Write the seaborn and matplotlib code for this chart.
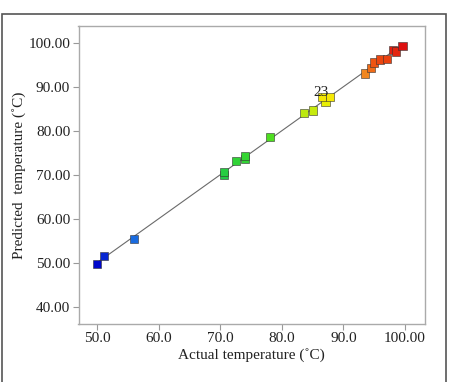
import numpy as np
import pandas as pd
import seaborn as sns
import matplotlib.pyplot as plt
from matplotlib.colors import LinearSegmentedColormap
from matplotlib.patches import Rectangle

# actual vs predicted temperature
actual = [50.0, 51.1, 56.0, 70.6, 70.6, 72.6, 74.1, 74.1, 78.1, 83.6, 85.1,
          87.1, 86.6, 87.9, 93.5, 94.5, 95.0, 96.0, 97.1, 98.1, 98.6, 99.6]
predicted = [49.7, 51.6, 55.5, 70.0, 70.7, 73.1, 73.5, 74.2, 78.5, 84.0, 84.6,
             86.5, 87.7, 87.6, 93.0, 94.3, 95.5, 96.2, 96.4, 98.3, 98.0, 99.2]
xticks = [50, 60, 70, 80, 90, 100]
xtick_labels = ['50.0', '60.0', '70.0', '80.0', '90.0', '100.00']
yticks = [40, 50, 60, 70, 80, 90, 100]
ytick_labels = ['40.00', '50.00', '60.00', '70.00', '80.00', '90.00', '100.00']
label_run = '23'

df = pd.DataFrame({'Actual': actual, 'Predicted': predicted})

sns.set_style('white')
plt.rcParams['font.family'] = ['Liberation Serif', 'DejaVu Serif']

cmap = LinearSegmentedColormap.from_list('de', [
    (0.0, '#0008cc'), (0.12, '#1a70e0'), (0.41, '#22cc44'), (0.57, '#44dd22'),
    (0.69, '#b8e810'), (0.76, '#f5f000'), (0.87, '#f08a20'), (0.93, '#ee5010'),
    (1.0, '#dd1010')])

fig = plt.figure(figsize=(4.5, 3.82), dpi=100)
ax = fig.add_axes([78.5 / 450, 1 - 324 / 382, (425 - 78.5) / 450, (324 - 26) / 382])

lo, hi = min(actual), max(actual)
ax.plot([lo, hi], [lo, hi], color='#6a6a6a', lw=0.8, zorder=1)

sns.scatterplot(data=df, x='Actual', y='Predicted', hue='Predicted', palette=cmap,
                marker='s', s=34, edgecolor='#333333', linewidth=0.4,
                legend=False, ax=ax, zorder=2)

ax.text(86.4, 88.6, label_run, fontsize=11, ha='center', va='center', color='#222222')

ax.set_xlim(47.0, 103.25)
ax.set_ylim(36.1, 103.8)
ax.set_xticks(xticks)
ax.set_xticklabels(xtick_labels)
ax.set_yticks(yticks)
ax.set_yticklabels(ytick_labels)
ax.tick_params(axis='both', direction='out', length=4, width=0.8, color='#999999',
               labelsize=11, labelcolor='#222222', pad=2)
ax.tick_params(left=True, bottom=True)
for sp in ax.spines.values():
    sp.set_color('#aaaaaa')
    sp.set_linewidth(1.0)

ax.set_xlabel('Actual temperature (˚C)', fontsize=11, color='#222222', labelpad=2)
ax.set_ylabel('Predicted  temperature (˚C)', fontsize=11, color='#222222', labelpad=2)

# outer frame
fig.patches.append(Rectangle((1.5 / 450, -0.05), 444.5 / 450, 1 - 14 / 382 + 0.05,
                             transform=fig.transFigure, fill=False,
                             edgecolor='#555555', lw=1.2))

fig.savefig('out.png', dpi=100)
